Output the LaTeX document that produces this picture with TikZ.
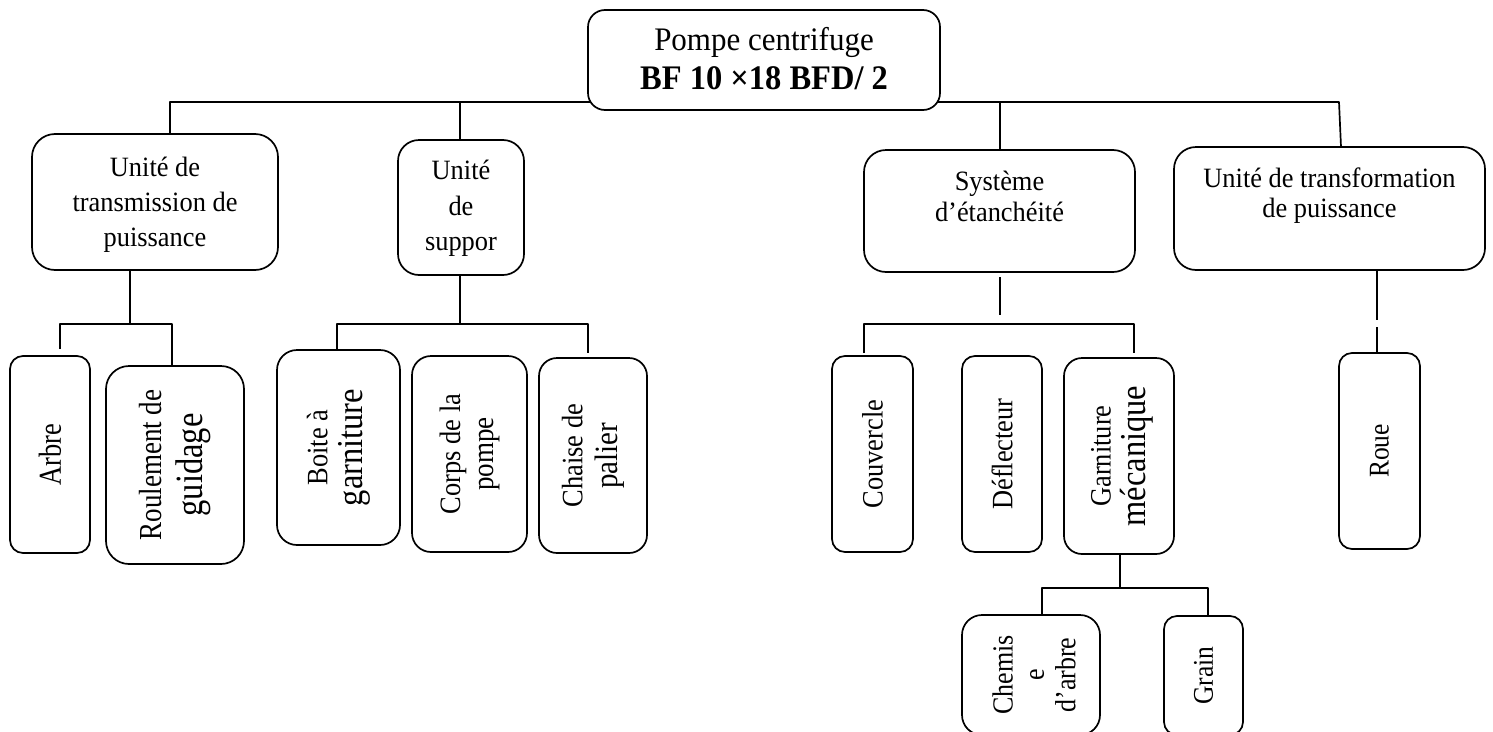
\documentclass[tikz,border=0pt]{standalone}
\usepackage{fontspec}
\setmainfont{Liberation Serif}
\usetikzlibrary{calc}
\newcommand{\setfs}[2]{\fontsize{#1pt}{#2pt}\selectfont}
\begin{document}
\begin{tikzpicture}[x=1pt, y=-1pt, line width=1.7pt, line join=round,
  box/.style={draw, fill=white, inner sep=0pt, outer sep=0pt},
  htxt/.style={anchor=north, inner sep=0pt, align=center, yscale=1.06},
  vtxt/.style={rotate=90, yscale=1.12, inner sep=0pt, align=center, font=\setfs{26.4}{31}},
]
\useasboundingbox (0,0) rectangle (1493,731);
\clip (0,0) rectangle (1493,731);
\fill[white] (0,0) rectangle (1493,731);

% --- root ---
\node[box, minimum width=352, minimum height=100, rounded corners=17] (top) at (764,60) {};
\node[htxt, font=\setfs{31}{36}] (topt) at (764,23.3)
  {\strut Pompe centrifuge\\{\bfseries\setfs{32.5}{36}BF 10 ×18 BFD/ 2}};

% --- first level ---
\node[box, minimum width=246, minimum height=136, rounded corners=23] (trans) at (155,202) {};
\node[htxt, font=\setfs{26.4}{33}] (transt) at (155,151.5)
  {\strut Unité de\\transmission de\\puissance};

\node[box, minimum width=126, minimum height=135, rounded corners=21] (supp) at (461,207.5) {};
\node[htxt, font=\setfs{26.4}{33.5}] (suppt) at (461,154.1)
  {\strut Unité\\de\\suppor};

\node[box, minimum width=271, minimum height=122, rounded corners=22] (syst) at (999.5,211) {};
\node[htxt, font=\setfs{26.4}{29.2}] (systt) at (999.5,168.3)
  {\strut Système\\d’étanchéité};

\node[box, minimum width=311, minimum height=123, rounded corners=22] (transf) at (1329.5,208.5) {};
\node[htxt, font=\setfs{26.4}{28.3}] (transft) at (1329.5,166)
  {\strut Unité de transformation\\de puissance};

% --- second level ---
\node[box, minimum width=80,  minimum height=197, rounded corners=13] (arbre)  at (50,454.5) {};
\node[vtxt, yscale=1.08] (arbret) at (arbre.center) {Arbre};

\node[box, minimum width=138, minimum height=198, rounded corners=23] (roul)   at (175,465) {};
\node[vtxt, yscale=1.06, font=\setfs{27}{34}] (roult) at (roul.center)
  {Roulement de\\{\setfs{32.5}{34}guidage}};

\node[box, minimum width=123, minimum height=195, rounded corners=20] (boite)  at (338.5,447.5) {};
\node[vtxt] (boitet) at (boite.center) {Boite à\\{\setfs{32.5}{31}garniture}};

\node[box, minimum width=115, minimum height=196, rounded corners=19] (corps)  at (469.5,454) {};
\node[vtxt, font=\setfs{26.4}{29.5}] (corpst) at (corps.center) {Corps de la\\{\setfs{27}{29.5}pompe}};

\node[box, minimum width=108, minimum height=195, rounded corners=18] (chaise) at (593,455.5) {};
\node[vtxt] (chaiset) at (chaise.center) {Chaise de\\{\setfs{29}{31}palier}};

\node[box, minimum width=81,  minimum height=196, rounded corners=13] (couv)   at (872.5,454) {};
\node[vtxt] (couvt) at (couv.center) {Couvercle};

\node[box, minimum width=80,  minimum height=196, rounded corners=13] (defl)   at (1002,454) {};
\node[vtxt] (deflt) at (defl.center) {Déflecteur};

\node[box, minimum width=110, minimum height=196, rounded corners=18] (garn)   at (1119,456) {};
\node[vtxt] (garnt) at ($(garn.center)+(3,0)$) {Garniture\\{\setfs{32.5}{31}mécanique}};

\node[box, minimum width=81,  minimum height=196, rounded corners=13] (roue)   at (1379.5,451) {};
\node[vtxt, font=\setfs{25.5}{31}] (rouet) at (roue.center) {Roue};

% --- third level ---
\node[box, minimum width=138, minimum height=120, rounded corners=20] (chem)   at (1031,675) {};
\node[vtxt, font=\setfs{26}{28}] (chemt) at ($(chem.center)+(3,0)$) {Chemis\\e\\d’arbre};

\node[box, minimum width=79,  minimum height=119, rounded corners=13] (grain)  at (1203.5,675.5) {};
\node[vtxt, font=\setfs{25.5}{31}] (graint) at (grain.center) {Grain};

% --- connectors: root to first level ---
\draw ($(trans.north)+(15,0)$) |- ($(top.south west)+(2,-8)$);
\draw ($(supp.north)+(-1,0)$) -- ++(0,-38);
\draw ($(syst.north)+(0.5,0)$) -- ++(0,-48);
\draw ($(top.south east)+(-2,-8)$) -- ($(transf.north)+(9.5,-45)$) -- ($(transf.north)+(11.5,0)$);

% --- transmission branch ---
\draw ($(trans.south)+(-25,0)$) -- ++(0,54);
\draw ($(arbre.north)+(10,-7)$) |- ($(roul.north)+(-3,-42)$) -- ($(roul.north)+(-3,0)$);

% --- support branch ---
\draw ($(supp.south)+(-1,0)$) -- ++(0,49);
\draw ($(boite.north)+(-1.5,0)$) |- ($(chaise.north)+(-5,-34)$) -- ($(chaise.north)+(-5,-5)$);

% --- sealing branch ---
\draw ($(syst.south)+(0.5,5)$) -- ++(0,38);
\draw ($(couv.north)+(-8.5,-3)$) |- ($(garn.north)+(15,-34)$) -- ($(garn.north)+(15,-5)$);

% --- transformation branch ---
\draw ($(transf.south)+(47.5,0)$) -- ++(0,50);
\draw ($(roue.north)+(-2.5,-26)$) -- ($(roue.north)+(-2.5,0)$);

% --- mechanical seal branch ---
\draw ($(garn.south)+(1,0)$) -- ++(0,34);
\draw ($(chem.north)+(11,0)$) |- ($(grain.north)+(4.5,-28)$) -- ($(grain.north)+(4.5,0)$);
\end{tikzpicture}
\end{document}
